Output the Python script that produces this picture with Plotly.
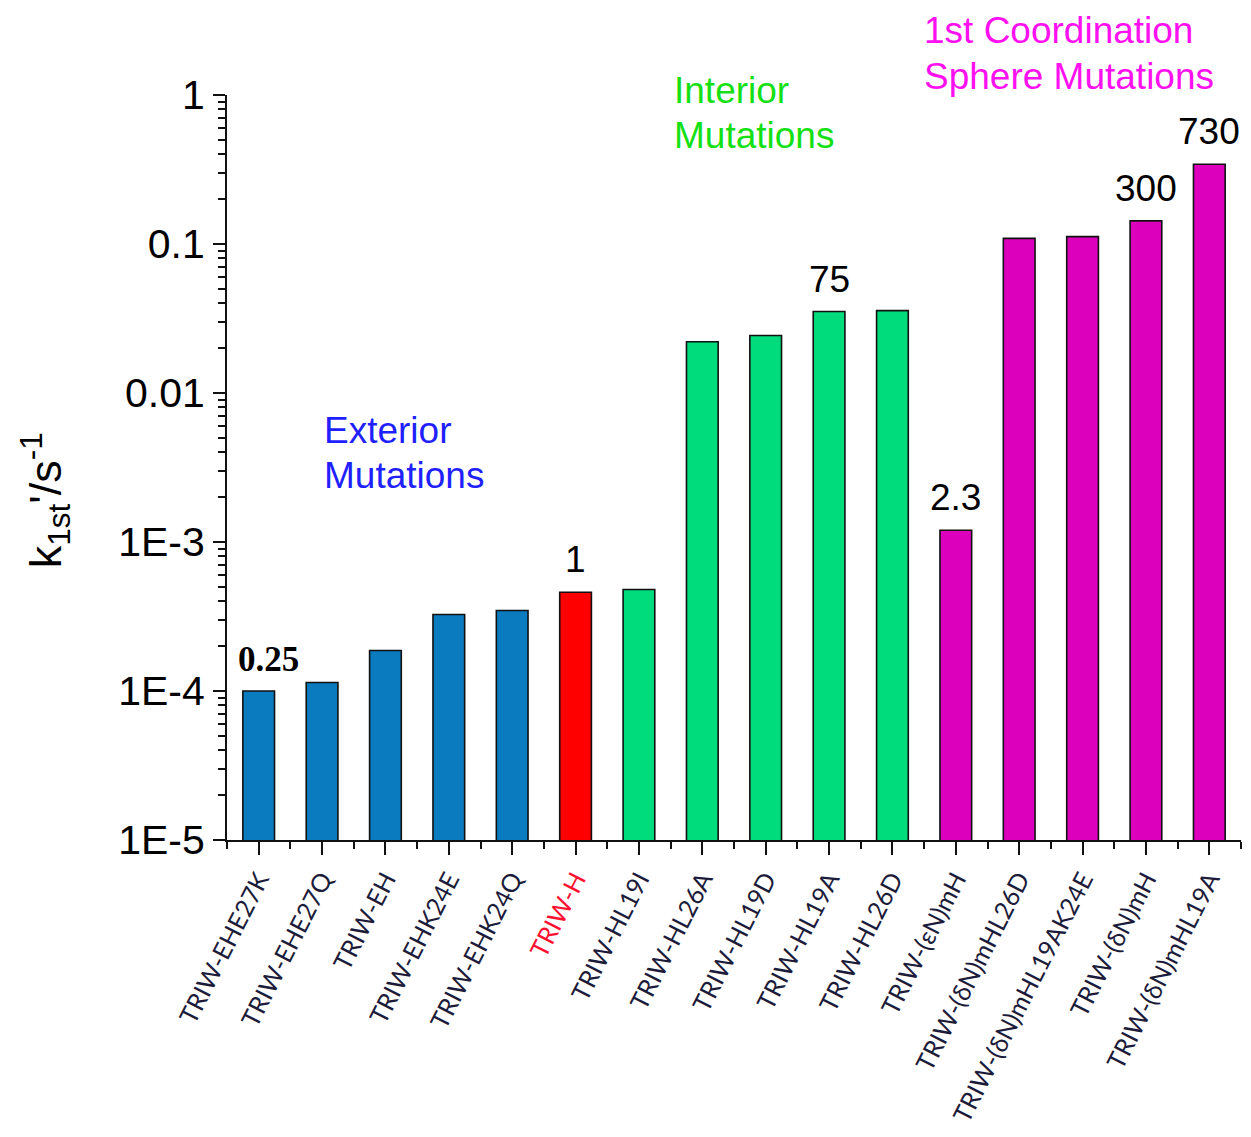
import math
import plotly.graph_objects as go

# Variants of the TRIW peptide and their first-order rate constants (s^-1)
variants = [
    "TRIW-EHE27K", "TRIW-EHE27Q", "TRIW-EH", "TRIW-EHK24E", "TRIW-EHK24Q",
    "TRIW-H",
    "TRIW-HL19I", "TRIW-HL26A", "TRIW-HL19D", "TRIW-HL19A", "TRIW-HL26D",
    "TRIW-(εN)mH", "TRIW-(δN)mHL26D", "TRIW-(δN)mHL19AK24E", "TRIW-(δN)mH",
    "TRIW-(δN)mHL19A",
]
k_first = [
    1.00e-4, 1.14e-4, 1.87e-4, 3.26e-4, 3.47e-4,
    4.60e-4,
    4.80e-4, 2.21e-2, 2.43e-2, 3.52e-2, 3.57e-2,
    1.20e-3, 1.09e-1, 1.12e-1, 1.43e-1, 3.43e-1,
]
group = (["exterior"] * 5 + ["parent"] + ["interior"] * 5 + ["first_sphere"] * 5)

# Rate enhancement relative to TRIW-H, printed over selected bars
ratio_index = [0, 5, 9, 11, 14, 15]
ratio_text = ["0.25", "1", "75", "2.3", "300", "730"]

# Y-axis decades
y_tickvals = [1e-5, 1e-4, 1e-3, 1e-2, 1e-1, 1]
y_ticktext = ["1E-5", "1E-4", "1E-3", "0.01", "0.1", "1"]

bar_colors = {
    "exterior": "#0a7bbf",
    "parent": "#ff0000",
    "interior": "#00dc7c",
    "first_sphere": "#dc00bc",
}
label_colors = {"parent": "#ff1030"}
default_label_color = "#1c1c3a"

x_pos = list(range(len(variants)))
tick_labels = []
for name, g in zip(variants, group):
    if g in label_colors:
        tick_labels.append(f'<span style="color:{label_colors[g]}">{name}</span>')
    else:
        tick_labels.append(name)

fig = go.Figure()
fig.add_trace(go.Bar(
    x=x_pos,
    y=k_first,
    width=0.5,
    marker=dict(color=[bar_colors[g] for g in group],
                line=dict(color="#111111", width=1.6)),
    showlegend=False,
))

# Ratio labels above bars
for i, txt in zip(ratio_index, ratio_text):
    is_bold = txt == "0.25"
    fig.add_annotation(
        x=x_pos[i] + (0.15 if is_bold else 0), y=math.log10(k_first[i]),
        xref="x", yref="y",
        text=f"<b>{txt}</b>" if is_bold else txt,
        showarrow=False, yanchor="bottom", yshift=10,
        font=dict(family="Liberation Serif" if is_bold else "Liberation Sans",
                  size=35 if is_bold else 37, color="#000000"),
    )

# Group captions, one annotation per line (paper y of each line centre)
captions = [
    ("Exterior", 1.0, 0.5503, "#1f1fff"),
    ("Mutations", 1.0, 0.4899, "#1f1fff"),
    ("Interior", 6.52, 1.0067, "#14e014"),
    ("Mutations", 6.52, 0.9463, "#14e014"),
    ("1st Coordination", 10.47, 1.0872, "#ff10f0"),
    ("Sphere Mutations", 10.47, 1.0255, "#ff10f0"),
]
for txt, xv, yp, col in captions:
    fig.add_annotation(
        x=xv, y=yp, xref="x", yref="paper", text=txt, showarrow=False,
        xanchor="left", yanchor="middle", align="left",
        font=dict(family="Liberation Sans", size=37, color=col),
    )

# Y-axis title
fig.add_annotation(
    x=-0.1795, y=0.456, xref="paper", yref="paper",
    text="k<sub>1st</sub>'/s<sup>-1</sup>", textangle=-90, showarrow=False,
    xanchor="center", yanchor="middle",
    font=dict(family="Liberation Sans", size=45, color="#000000"),
)

minor_y = [m * 10 ** e for e in range(-5, 0) for m in range(2, 10)]

fig.update_layout(
    width=1251, height=1137,
    margin=dict(l=227, r=10, t=95, b=297),
    plot_bgcolor="white", paper_bgcolor="white",
    bargap=0.5,
    xaxis=dict(
        range=[-0.5, 15.5], automargin=False,
        tickmode="array", tickvals=x_pos, ticktext=tick_labels,
        tickangle=-63,
        tickfont=dict(family="Lato", size=25, color=default_label_color),
        showline=True, linecolor="#111111", linewidth=2,
        ticks="outside", ticklen=13, tickwidth=2, tickcolor="#111111",
        minor=dict(tickmode="array", tickvals=[v + 0.5 for v in [-1] + x_pos],
                   ticks="outside", ticklen=7, tickwidth=2, tickcolor="#111111"),
        showgrid=False, zeroline=False,
    ),
    yaxis=dict(
        type="log", range=[-5, 0], automargin=False,
        tickmode="array", tickvals=y_tickvals, ticktext=y_ticktext,
        tickfont=dict(family="Liberation Sans", size=41, color="#000000"),
        showline=True, linecolor="#111111", linewidth=2,
        ticks="outside", ticklen=12, tickwidth=2, tickcolor="#111111",
        minor=dict(tickmode="array", tickvals=minor_y,
                   ticks="outside", ticklen=7, tickwidth=1.5, tickcolor="#111111"),
        showgrid=False, zeroline=False,
    ),
)

fig.write_html("out.html")
